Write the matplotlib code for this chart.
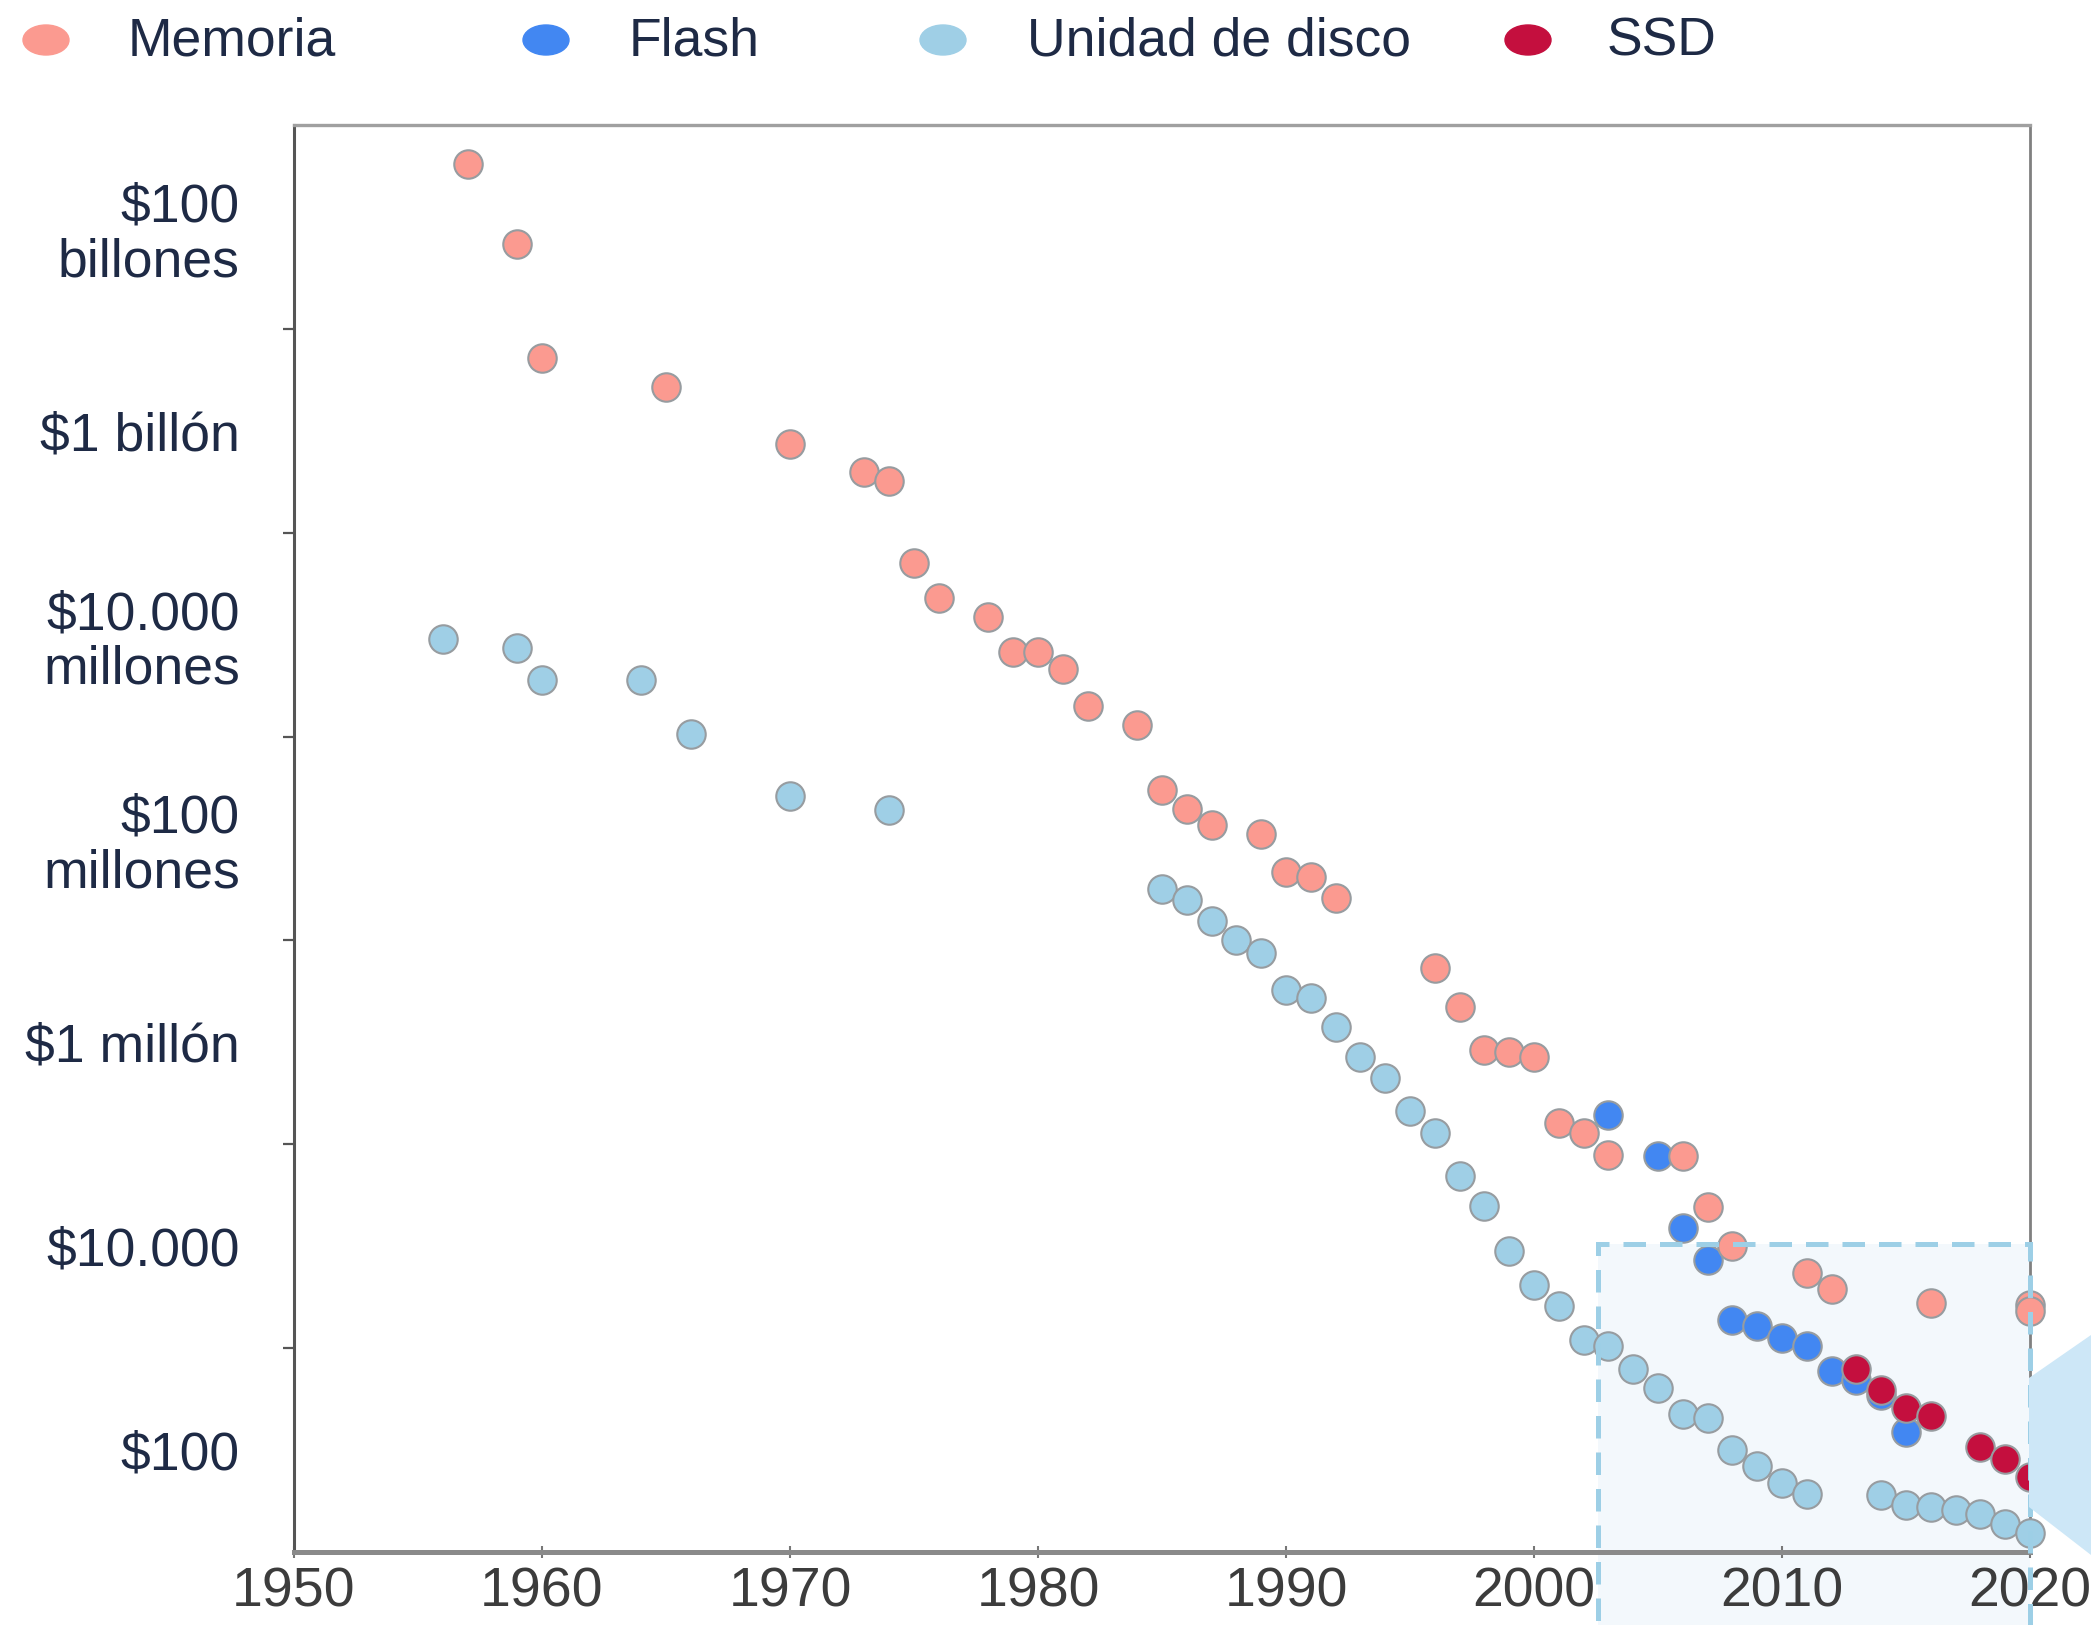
import matplotlib.pyplot as plt
from matplotlib.patches import Rectangle, Ellipse, Polygon
from matplotlib.ticker import FixedLocator, NullFormatter

plt.rcParams['font.family'] = ['Liberation Sans', 'DejaVu Sans']

# precio por terabyte (USD)
mem_years = [1957, 1959, 1960, 1965, 1970, 1973, 1974, 1975, 1976, 1978, 1979, 1980,
             1981, 1982, 1984, 1985, 1986, 1987, 1989, 1990, 1991, 1992, 1996, 1997,
             1998, 1999, 2000, 2001, 2002, 2003, 2006, 2007, 2008, 2011, 2012, 2016,
             2020, 2020]
mem_price = [4.1e14, 6.8e13, 5.2e12, 2.7e12, 7.4e11, 3.9e11, 3.2e11, 5.1e10, 2.3e10,
             1.5e10, 6.8e9, 6.8e9, 4.6e9, 2.0e9, 1.3e9, 3.0e8, 1.95e8, 1.35e8, 1.1e8,
             4.7e7, 4.2e7, 2.6e7, 5.4e6, 2.2e6, 8.5e5, 8.1e5, 7.2e5, 1.6e5, 1.3e5,
             7.8e4, 7.6e4, 2.4e4, 1.0e4, 5.4e3, 3.8e3, 2.75e3, 2.65e3, 2.3e3]

flash_years = [2003, 2005, 2006, 2007, 2008, 2009, 2010, 2011, 2012, 2013, 2014, 2015]
flash_price = [1.95e5, 7.6e4, 1.5e4, 7.4e3, 1.9e3, 1.65e3, 1.25e3, 1.05e3, 600, 490, 350, 150]

disk_years = [1956, 1959, 1960, 1964, 1966, 1970, 1974,
              1985, 1986, 1987, 1988, 1989, 1990, 1991, 1992, 1993, 1994, 1995, 1996,
              1997, 1998, 1999, 2000, 2001, 2002, 2003, 2004, 2005, 2006, 2007, 2008,
              2009, 2010, 2011,
              2014, 2015, 2016, 2017, 2018, 2019, 2020]
disk_price = [9.1e9, 7.4e9, 3.6e9, 3.6e9, 1.05e9, 2.6e8, 1.9e8,
              3.2e7, 2.5e7, 1.55e7, 1.0e7, 7.6e6, 3.3e6, 2.75e6, 1.4e6, 7.2e5, 4.5e5,
              2.1e5, 1.3e5, 4.9e4, 2.5e4, 8.9e3, 4.2e3, 2.6e3, 1.2e3, 1.05e3, 630, 410,
              225, 205, 100, 69, 47, 37,
              36, 29, 27.5, 25.7, 23.4, 19, 15.5]

ssd_years = [2013, 2014, 2015, 2016, 2018, 2019, 2020]
ssd_price = [630, 390, 260, 215, 107, 81, 54]

series_names = ["Memoria", "Flash", "Unidad de disco", "SSD"]
series_colors = ["#fb9a90", "#4287f2", "#9fcfe6", "#c40f3e"]

ytick_vals = [1e2, 1e4, 1e6, 1e8, 1e10, 1e12, 1e14]
ytick_labels = ["$100", "$10.000", "$1 millón", "$100\nmillones",
                "$10.000\nmillones", "$1 billón", "$100\nbillones"]
yminor_vals = [1e3, 1e5, 1e7, 1e9, 1e11, 1e13]

W, H = 2091, 1625
fig = plt.figure(figsize=(W / 100, H / 100), dpi=100)
ax = fig.add_axes([294 / W, 1 - 1552 / H, (2030 - 294) / W, (1552 - 125) / H])
ax.set_yscale('log')
ax.set_xlim(1950, 2020)
ax.set_ylim(1e1, 1e15)

# zona resaltada
ax.add_patch(Rectangle((2002.6, 1e0), 2020 - 2002.6, 10**4.02 - 1e0,
                       facecolor="#f3f8fc", edgecolor="none", zorder=0.5, clip_on=False))

kw = dict(s=420, edgecolors="#979ca0", linewidths=1.5, clip_on=False)
ax.scatter(disk_years, disk_price, color=series_colors[2], zorder=3, **kw)
ax.scatter(flash_years, flash_price, color=series_colors[1], zorder=3.1, **kw)
ax.scatter(mem_years, mem_price, color=series_colors[0], zorder=3.2, **kw)
ax.scatter(ssd_years, ssd_price, color=series_colors[3], zorder=3.3, **kw)

ax.add_patch(Rectangle((2002.6, 1e0), 2020 - 2002.6, 10**4.02 - 1e0,
                       fill=False, edgecolor="#9dcfe6", linewidth=3.6,
                       linestyle=(0, (4.5, 2.8)), zorder=6, clip_on=False))

# ejes
ax.spines['left'].set_color("#555555")
ax.spines['left'].set_linewidth(2.2)
ax.spines['top'].set_color("#a0a0a0")
ax.spines['top'].set_linewidth(2.4)
ax.spines['right'].set_color("#808080")
ax.spines['right'].set_linewidth(2.0)
ax.spines['bottom'].set_color("#8a8a8a")
ax.spines['bottom'].set_linewidth(3.6)

ax.set_xticks(range(1950, 2021, 10))
ax.tick_params(axis='x', direction='inout', length=9, width=1.5, color="#777777",
               labelsize=40, labelcolor="#3c3c3c", pad=6)

ax.yaxis.set_major_locator(FixedLocator(ytick_vals))
ax.set_yticklabels(ytick_labels, linespacing=1.12)
ax.yaxis.set_minor_locator(FixedLocator(yminor_vals))
ax.yaxis.set_minor_formatter(NullFormatter())
ax.tick_params(axis='y', which='major', length=0, pad=39, labelsize=38.5,
               labelcolor="#1e2a45")
ax.tick_params(axis='y', which='minor', length=8, width=1.6, color="#555555")

# leyenda
leg_marker_x = [46, 546, 943, 1528]
leg_text_x = [128, 629, 1027, 1607]
for name, col, mx, tx in zip(series_names, series_colors, leg_marker_x, leg_text_x):
    fig.patches.append(Ellipse((mx / W, 1 - 40 / H), 46 / W, 30 / H, color=col,
                               transform=fig.transFigure, figure=fig))
    fig.text(tx / W, 1 - 42 / H, name, fontsize=38.5, color="#1e2a45",
             ha='left', va='center')

# triángulo de llamada
tri = [(2029, 1378), (2091, 1335), (2091, 1555), (2029, 1507)]
fig.patches.append(Polygon([(x / W, 1 - y / H) for x, y in tri], closed=True,
                           facecolor="#cde7f7", edgecolor="none",
                           transform=fig.transFigure, figure=fig, zorder=10))

fig.savefig("out.png", dpi=100)
